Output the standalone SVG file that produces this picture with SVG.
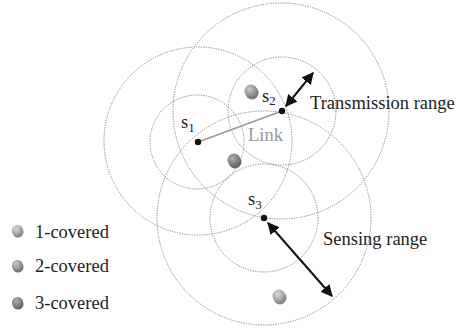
<svg xmlns="http://www.w3.org/2000/svg" width="458" height="328" viewBox="0 0 458 328">
<style>
.rng{fill:none;stroke:#8a8a8a;stroke-width:1;stroke-dasharray:1.3 1.2}
text{font-family:'Liberation Serif','Times New Roman','DejaVu Serif',serif;font-size:18.5px;fill:#222}
.sub{font-size:13px}
.arr{stroke:#111;stroke-width:2;fill:none;marker-start:url(#ah);marker-end:url(#ah)}
.node{fill:#111}
</style>
<defs>
<marker id="ah" viewBox="0 0 10 10" refX="9" refY="5" markerWidth="6" markerHeight="6" orient="auto-start-reverse" markerUnits="strokeWidth">
<path d="M0,0 L10,5 L0,10 z" fill="#111"/>
</marker>
<radialGradient id="g1" cx="0.38" cy="0.35" r="0.7">
<stop offset="0" stop-color="#d8d8d8"/><stop offset="1" stop-color="#8a8a8a"/>
</radialGradient>
<radialGradient id="g2" cx="0.38" cy="0.35" r="0.7">
<stop offset="0" stop-color="#c8c8c8"/><stop offset="1" stop-color="#7a7a7a"/>
</radialGradient>
<radialGradient id="g3" cx="0.38" cy="0.35" r="0.7">
<stop offset="0" stop-color="#b0b0b0"/><stop offset="1" stop-color="#686868"/>
</radialGradient>
</defs>

<g id="ranges">
<circle class="rng" cx="198" cy="141" r="94"/>
<circle class="rng" cx="197" cy="142" r="47"/>
<circle class="rng" cx="281" cy="111" r="108"/>
<circle class="rng" cx="282" cy="111" r="54"/>
<circle class="rng" cx="264" cy="218" r="107"/>
<circle class="rng" cx="264" cy="218" r="54"/>
</g>

<g id="connectors">
<line x1="198" y1="142" x2="282" y2="111" stroke="#9a9a9a" stroke-width="1.6"/>
<line class="arr" x1="286" y1="106" x2="313" y2="73"/>
<line class="arr" x1="268" y1="223" x2="332" y2="296"/>
</g>

<g id="s1">
<circle class="node" cx="198" cy="142" r="3.2"/>
<text font-family="Liberation Serif, serif" x="181" y="128">s<tspan class="sub" dy="4">1</tspan></text>
</g>
<g id="s2">
<circle class="node" cx="282" cy="111" r="3.2"/>
<text font-family="Liberation Serif, serif" x="262" y="102">s<tspan class="sub" dy="3">2</tspan></text>
</g>
<g id="s3">
<circle class="node" cx="264" cy="218" r="3.2"/>
<text font-family="Liberation Serif, serif" x="248" y="205">s<tspan class="sub" dy="4">3</tspan></text>
</g>

<g id="link-label"><text x="248" y="141" style="fill:#9a9a9a">Link</text></g>
<g id="transmission-label"><text x="310" y="109">Transmission range</text></g>
<g id="sensing-label"><text x="323" y="245">Sensing range</text></g>

<g id="target-a">
<circle cx="252" cy="93" r="6.5" fill="#777"/>
<circle cx="251" cy="91" r="6.5" fill="url(#g2)"/>
</g>
<g id="target-b">
<circle cx="235" cy="162" r="6.5" fill="#6a6a6a"/>
<circle cx="234" cy="160" r="6.5" fill="url(#g3)"/>
</g>
<g id="target-c">
<circle cx="280" cy="298" r="6.5" fill="#888"/>
<circle cx="279" cy="296" r="6.5" fill="url(#g1)"/>
</g>

<g id="legend-1">
<circle cx="18" cy="232" r="5.5" fill="#888"/>
<circle cx="17.5" cy="230.5" r="5.5" fill="url(#g1)"/>
<text x="35" y="238">1-covered</text>
</g>
<g id="legend-2">
<circle cx="18" cy="267" r="5.5" fill="#777"/>
<circle cx="17.5" cy="265.5" r="5.5" fill="url(#g2)"/>
<text x="35" y="272">2-covered</text>
</g>
<g id="legend-3">
<circle cx="18" cy="304" r="5.5" fill="#666"/>
<circle cx="17.5" cy="302.5" r="5.5" fill="url(#g3)"/>
<text x="35" y="309">3-covered</text>
</g>
</svg>
